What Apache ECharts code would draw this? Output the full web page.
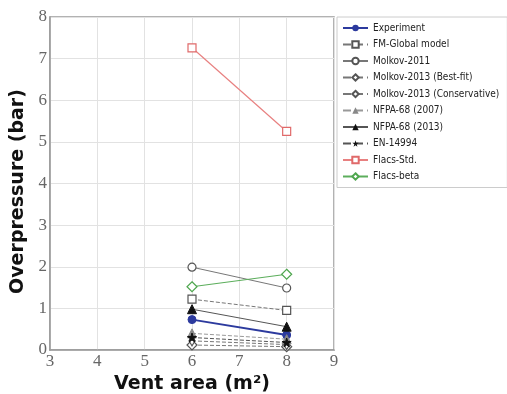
<!DOCTYPE html>
<html>
<head>
<meta charset="utf-8">
<script src="https://cdn.jsdelivr.net/npm/echarts@6/dist/echarts.min.js"></script>
<style>html,body{margin:0;padding:0;background:#fff}#c{width:507px;height:394px}</style>
</head>
<body>
<div id="c"></div>
<script>
const ventAreas = [6, 8];
const xTicks = [3, 4, 5, 6, 7, 8, 9];
const yTicks = [0, 1, 2, 3, 4, 5, 6, 7, 8];
const experiment = [0.73, 0.36];
const fmGlobal = [1.22, 0.95];
const molkov2011 = [1.99, 1.49];
const molkov2013Best = [0.12, 0.08];
const molkov2013Cons = [0.22, 0.13];
const nfpa2007 = [0.40, 0.26];
const nfpa2013 = [0.98, 0.56];
const en14994 = [0.30, 0.18];
const flacsStd = [7.26, 5.25];
const flacsBeta = [1.52, 1.82];

const star = 'path://M50,0 L61,35 L98,35 L68,57 L79,91 L50,70 L21,91 L32,57 L2,35 L39,35 Z';
function pts(v){ return ventAreas.map((x,i)=>[x, v[i]]); }
function mk(name, data, symbol, size, color, lineColor, lineType, width, fill){
  return {
    name, type:'line', data: pts(data), symbol, symbolSize: size,
    lineStyle:{color: lineColor, type: lineType, width: width},
    itemStyle: fill ? {color: color, borderColor: color} : {color: '#fff', borderColor: color, borderWidth: 1.2},
    z: 3
  };
}
const series = [
  mk('Experiment', experiment, 'circle', 8, '#2c3a9e', '#2c3a9e', 'solid', 2, true),
  mk('FM-Global model', fmGlobal, 'rect', 8, '#555', '#777', 'dashed', 1, false),
  mk('Molkov-2011', molkov2011, 'circle', 8, '#555', '#777', 'solid', 1, false),
  mk('Molkov-2013 (Best-fit)', molkov2013Best, 'diamond', 10, '#555', '#777', 'dashed', 1, false),
  mk('Molkov-2013 (Conservative)', molkov2013Cons, 'diamond', [6,10], '#555', '#777', 'dashed', 1, false),
  mk('NFPA-68 (2007)', nfpa2007, 'triangle', 9, '#888', '#999', 'dashed', 1, true),
  mk('NFPA-68 (2013)', nfpa2013, 'triangle', 9, '#111', '#555', 'solid', 1, true),
  mk('EN-14994', en14994, star, 9, '#111', '#555', 'dashed', 1, true),
  mk('Flacs-Std.', flacsStd, 'rect', 8, '#e06a6a', '#e88080', 'solid', 1.2, false),
  mk('Flacs-beta', flacsBeta, 'diamond', 10, '#4ea64e', '#5cae5c', 'solid', 1.2, false)
];
const chart = echarts.init(document.getElementById('c'), null, {renderer:'canvas'});
chart.setOption({
  animation: false,
  backgroundColor: '#fff',
  grid: {left: 50, right: 173, top: 17, bottom: 44, outerBoundsMode: 'none', containLabel: false, show: true, borderColor: '#999', borderWidth: 1.5, backgroundColor: 'transparent'},
  xAxis: {
    type: 'value', min: xTicks[0], max: xTicks[xTicks.length-1], interval: 1,
    name: 'Vent area (m²)', nameLocation: 'middle', nameGap: 24,
    nameTextStyle: {fontFamily: 'DejaVu Sans', fontWeight: 'bold', fontSize: 19, color: '#111'},
    axisLine: {show: true, lineStyle: {color: '#999', width: 1.5}},
    axisTick: {show: false},
    axisLabel: {fontFamily: 'Liberation Serif', fontSize: 17, color: '#666', margin: 3},
    splitLine: {show: true, lineStyle: {color: '#e2e2e2', width: 1}}
  },
  yAxis: {
    type: 'value', min: yTicks[0], max: yTicks[yTicks.length-1], interval: 1,
    name: 'Overpressure (bar)', nameLocation: 'middle', nameGap: 14,
    nameTextStyle: {fontFamily: 'DejaVu Sans', fontWeight: 'bold', fontSize: 19, color: '#111', padding: [0, 16, 0, 0]},
    axisLine: {show: true, lineStyle: {color: '#999', width: 1.5}},
    axisTick: {show: false},
    axisLabel: {fontFamily: 'Liberation Serif', fontSize: 17, color: '#666', margin: 3},
    splitLine: {show: true, lineStyle: {color: '#e2e2e2', width: 1}}
  },
  legend: {
    orient: 'vertical', left: 337, top: 17,
    backgroundColor: '#fff', borderColor: '#ccc', borderWidth: 1,
    padding: [6, 8, 6, 5],
    itemWidth: 25, itemHeight: 8, itemGap: 6.5,
    textStyle: {fontFamily: 'DejaVu Sans Condensed', fontSize: 10, color: '#222'},
    data: series.map(s => s.name)
  },
  series
});
</script>
</body>
</html>
